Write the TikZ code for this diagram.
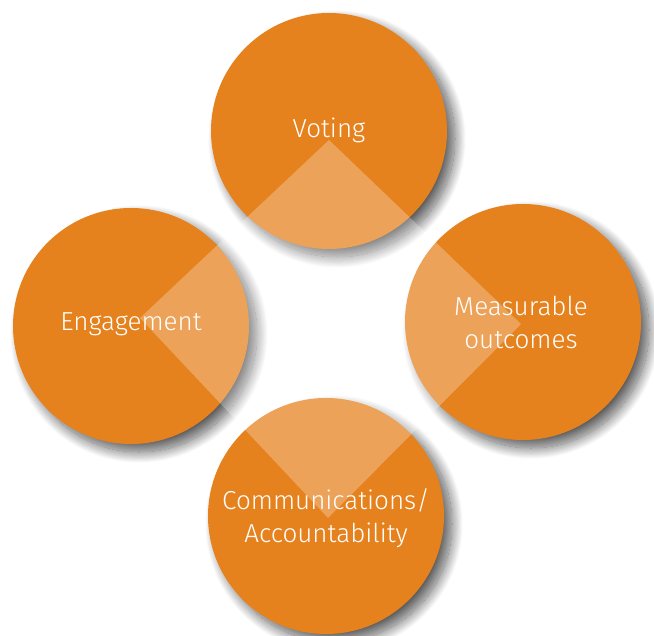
\documentclass[tikz,border=0pt]{standalone}
\usepackage{fontspec}
\setmainfont{Fira Sans}[UprightFont=* Light]
\usetikzlibrary{shadows.blur}
\definecolor{disc}{HTML}{E6821E}
\tikzset{
  x=1pt, y=-1pt,
  disc/.style={circle, fill=disc, minimum size=236pt, inner sep=0pt,
    blur shadow={shadow xshift=8pt, shadow yshift=-8pt,
                 shadow blur radius=11pt, shadow blur steps=24,
                 shadow opacity=65}},
  label/.style={text=white, font=\fontsize{26}{33}\selectfont, align=center},
}
\begin{document}
\begin{tikzpicture}
  \useasboundingbox (0,0) rectangle (654,636);
  % the four discs
  \node[disc] (voting) at (329,131) {};
  \node[disc] (engage) at (131,326) {};
  \node[disc] (measure) at (523,322) {};
  \node[disc] (comms) at (326,516) {};
  % translucent diamond linking the discs
  \coordinate (dt) at (329,140);
  \coordinate (dr) at (521,324);
  \coordinate (db) at (328,518);
  \coordinate (dl) at (140,318);
  \fill[white, opacity=0.26] (dt) -- (dr) -- (db) -- (dl) -- cycle;
  % labels
  \node[label] at (329,130) {Voting};
  \node[label] at (131,324) {Engagement};
  \node[label] at (521,322) {Measurable\\outcomes};
  \node[label] at (326,518) {Communications/\\Accountability};
\end{tikzpicture}
\end{document}
